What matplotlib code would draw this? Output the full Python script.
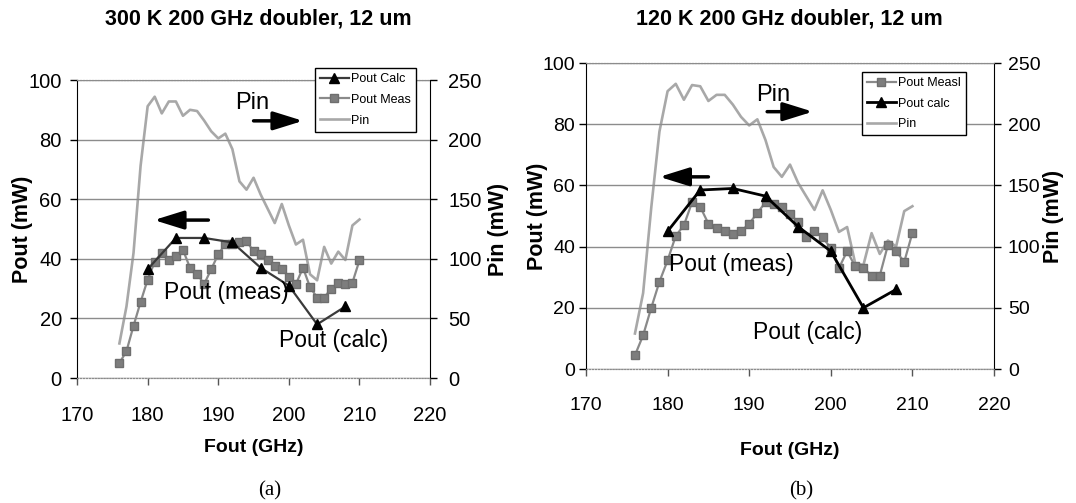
"""
200 GHz doubler: output power vs output frequency at 300 K and 120 K
Calculated and measured Pout on the left axis, drive power Pin on the right axis.
"""

import matplotlib.pyplot as plt

plt.rcParams["font.family"] = ["Liberation Sans", "DejaVu Sans"]

# ── Data ─────────────────────────────────────────────────────────────────────
freq_meas = [176, 177, 178, 179, 180, 181, 182, 183, 184, 185, 186, 187,
             188, 189, 190, 191, 192, 193, 194, 195, 196, 197, 198, 199,
             200, 201, 202, 203, 204, 205, 206, 207, 208, 209, 210]
freq_calc = [180, 184, 188, 192, 196, 200, 204, 208]

# (a) 300 K
calc_300 = [36.5, 47, 47, 45.5, 37, 31, 18, 24]
meas_300 = [5, 9, 17.5, 25.5, 33, 39, 42, 39.5, 41, 43, 37, 35,
            31.5, 36.5, 41.5, 45, 45, 45.5, 46, 42.5, 41.5, 39.5, 37.5, 36.5,
            34, 31.5, 37, 30.5, 27, 27, 30, 32, 31.5, 32, 39.5]
pin_300 = [29, 60, 105, 178, 228, 236, 222, 232, 232, 220, 225, 224,
           216, 207, 201, 205, 192, 165, 158, 168, 154, 142, 130, 146,
           128, 112, 116, 87, 82, 110, 96, 106, 99, 128, 133]

# (b) 120 K
calc_120 = [45, 58.5, 59, 56.5, 46.5, 38.5, 20, 26]
meas_120 = [4.5, 11, 20, 28.5, 35.5, 43.5, 47, 54.5, 53, 47.5, 46, 45,
            44, 45, 47.5, 51, 54.5, 54, 53, 50.5, 48, 43, 45, 43,
            39.5, 33, 38.5, 33.5, 33, 30.5, 30.5, 40.5, 38.5, 35, 44.5]
pin_120 = [29, 62, 132, 194, 227, 233, 220, 232, 231, 219, 224, 224,
           216, 206, 199, 204, 187, 165, 157, 167, 152, 141, 130, 146,
           130, 112, 116, 86, 85, 111, 94, 105, 100, 129, 133]

x_ticks = [170, 180, 190, 200, 210, 220]
pout_ticks = [0, 20, 40, 60, 80, 100]
pin_ticks = [0, 50, 100, 150, 200, 250]

# ── Figure ───────────────────────────────────────────────────────────────────
fig = plt.figure(figsize=(10.76, 5.03), dpi=100)

panels = [
    dict(rect=[0.0716, 0.2485, 0.3281, 0.5924],
         title="300 K 200 GHz doubler, 12 um", title_x=0.240,
         calc=calc_300, meas=meas_300, pin=pin_300,
         calc_label="Pout Calc", meas_label="Pout Meas",
         legend_order=("calc", "meas", "pin"), legend_at=(0.2928, 0.8648),
         calc_color="#3a3a3a", calc_lw=1.6,
         pin_text=(194.8, 92.3), pin_arrow=((195.0, 86.3), (202.0, 86.3)),
         pout_arrow=((188.6, 53.0), (180.9, 53.0)),
         meas_text=(191.1, 28.7), calc_text=(206.3, 12.7),
         ylab_x=-0.125, pinlab_x=1.165, xlab_y=-0.205,
         ypad=6, xpad=15, tick_fs=14.5, tag="(a)", tag_x=0.251),
    dict(rect=[0.5446, 0.2664, 0.3792, 0.6083],
         title="120 K 200 GHz doubler, 12 um", title_x=0.734,
         calc=calc_120, meas=meas_120, pin=pin_120,
         calc_label="Pout calc", meas_label="Pout Measl",
         legend_order=("meas", "calc", "pin"), legend_at=(0.801, 0.857),
         calc_color="black", calc_lw=2.0,
         pin_text=(192.9, 89.6), pin_arrow=((192.2, 84.1), (197.8, 84.1)),
         pout_arrow=((185.0, 62.8), (179.0, 62.8)),
         meas_text=(187.8, 34.0), calc_text=(197.1, 12.0),
         ylab_x=-0.092, pinlab_x=1.12, xlab_y=-0.239,
         ypad=3, xpad=15, tick_fs=14, tag="(b)", tag_x=0.745),
]

for p in panels:
    ax = fig.add_axes(p["rect"])
    ax2 = ax.twinx()
    ax.set_zorder(ax2.get_zorder() + 1)
    ax.patch.set_visible(False)

    # Pin on the secondary axis, drawn underneath
    h_pin, = ax2.plot(freq_meas, p["pin"], color="#a8a8a8", lw=1.9,
                      label="Pin")
    h_meas, = ax.plot(freq_meas, p["meas"], color="#8a8a8a", lw=1.6,
                      marker="s", markersize=5.5, markerfacecolor="#7d7d7d",
                      markeredgecolor="#6e6e6e", label=p["meas_label"])
    h_calc, = ax.plot(freq_calc, p["calc"], color=p["calc_color"],
                      lw=p["calc_lw"], marker="^", markersize=7.5,
                      markerfacecolor="black", markeredgecolor="black",
                      label=p["calc_label"], zorder=4)

    ax.set_xlim(170, 220)
    ax.set_ylim(0, 100)
    ax2.set_ylim(0, 250)
    ax.set_xticks(x_ticks)
    ax.set_yticks(pout_ticks)
    ax2.set_yticks(pin_ticks)

    # horizontal grid only
    ax.yaxis.grid(True, color="#8c8c8c", lw=1.0)
    ax.set_axisbelow(True)

    for a in (ax, ax2):
        a.spines["top"].set_color("#8c8c8c")
        a.spines["top"].set_linestyle(":")
        a.spines["bottom"].set_color("#8c8c8c")
        a.spines["bottom"].set_linestyle(":")
    ax.spines["right"].set_visible(False)
    ax2.spines["left"].set_visible(False)
    ax.spines["left"].set_color("black")
    ax2.spines["right"].set_color("black")

    ax.tick_params(axis="y", direction="out", length=5, width=1,
                   labelsize=p["tick_fs"], pad=p["ypad"])
    ax2.tick_params(axis="y", direction="out", length=5, width=1,
                    labelsize=p["tick_fs"], pad=p["ypad"] + 2)
    ax.tick_params(axis="x", direction="out", length=5, width=1,
                   color="#555555", labelsize=p["tick_fs"], pad=p["xpad"])

    ax.set_ylabel("Pout (mW)", fontsize=15.5, fontweight="bold")
    ax.yaxis.set_label_coords(p["ylab_x"], 0.5)
    ax2.set_ylabel("Pin (mW)", fontsize=15.5, fontweight="bold")
    ax2.yaxis.set_label_coords(p["pinlab_x"], 0.5)
    ax.set_xlabel("Fout (GHz)", fontsize=14, fontweight="bold")
    ax.xaxis.set_label_coords(0.5, p["xlab_y"])

    # in-plot annotations
    ax.text(*p["pin_text"], "Pin", fontsize=17, ha="center", va="center")
    ax.text(*p["meas_text"], "Pout (meas)", fontsize=16.5,
            ha="center", va="center", zorder=5)
    ax.text(*p["calc_text"], "Pout (calc)", fontsize=16.5,
            ha="center", va="center")
    arrow_kw = dict(arrowstyle="-|>,head_length=0.9,head_width=0.28",
                    lw=2.5, color="black", mutation_scale=20,
                    shrinkA=0, shrinkB=0)
    tail, head = p["pin_arrow"]
    ax.annotate("", xy=head, xytext=tail, arrowprops=arrow_kw)
    tail, head = p["pout_arrow"]
    ax.annotate("", xy=head, xytext=tail, arrowprops=arrow_kw)

    handles = {"calc": h_calc, "meas": h_meas, "pin": h_pin}
    hs = [handles[k] for k in p["legend_order"]]
    leg = ax.legend(hs, [h.get_label() for h in hs], loc="upper left",
                    bbox_to_anchor=p["legend_at"],
                    bbox_transform=fig.transFigure, fontsize=9,
                    frameon=True, fancybox=False, framealpha=1,
                    edgecolor="black", handlelength=2.3, handletextpad=0.2,
                    labelspacing=0.7, borderpad=0.4, borderaxespad=0)
    leg.get_frame().set_linewidth(1.0)

    fig.text(p["title_x"], 0.962, p["title"], fontsize=15.5,
             fontweight="bold", ha="center", va="center")
    fig.text(p["tag_x"], 0.025, p["tag"], fontsize=15,
             family="Liberation Serif", ha="center", va="center")

plt.savefig("out.png", dpi=100)
